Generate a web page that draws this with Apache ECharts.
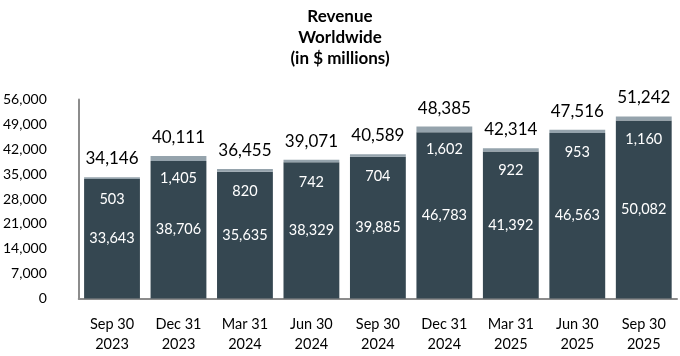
<!DOCTYPE html>
<html><head><meta charset="utf-8">
<script src="https://cdn.jsdelivr.net/npm/echarts@6/dist/echarts.min.js"></script>
<style>html,body{margin:0;padding:0;background:#fff}#c{width:680px;height:356px}</style>
</head><body><div id="c"></div>
<script>
const categories = ["Sep 30\n2023","Dec 31\n2023","Mar 31\n2024","Jun 30\n2024","Sep 30\n2024","Dec 31\n2024","Mar 31\n2025","Jun 30\n2025","Sep 30\n2025"];
const baseValues = [33643,38706,35635,38329,39885,46783,41392,46563,50082];
const topValues = [503,1405,820,742,704,1602,922,953,1160];
const totals = [34146,40111,36455,39071,40589,48385,42314,47516,51242];
const yTicks = [0,7000,14000,21000,28000,35000,42000,49000,56000];

const FONT = 'Lato';
const fmt = v => Number(v).toLocaleString('en-US');
const chart = echarts.init(document.getElementById('c'));
chart.setOption({
  animation: false,
  title: {
    text: 'Revenue\nWorldwide\n(in $ millions)',
    left: 'center', top: 1,
    textStyle: {fontFamily: FONT, fontSize: 17, fontWeight: 'bold', color: '#000', lineHeight: 21}
  },
  grid: {left: 78, right: 3, top: 99.5, bottom: 57.5, containLabel: false},
  xAxis: {
    type: 'category', data: categories,
    axisLine: {lineStyle: {color: '#8c8c8c', width: 2}},
    axisTick: {show: false},
    axisLabel: {fontFamily: FONT, fontSize: 14.5, color: '#000', lineHeight: 20, margin: 16}
  },
  yAxis: {
    type: 'value', min: yTicks[0], max: yTicks[yTicks.length-1], interval: 7000,
    axisLine: {show: true, lineStyle: {color: '#8c8c8c', width: 2}},
    axisTick: {show: false},
    splitLine: {show: false},
    axisLabel: {fontFamily: FONT, fontSize: 14, color: '#000', margin: 32, formatter: v => fmt(v)}
  },
  series: [
    {
      type: 'bar', stack: 'rev', data: baseValues, barCategoryGap: '16%',
      itemStyle: {color: '#354751'},
      label: {show: true, position: 'inside', fontFamily: FONT, fontSize: 14.5, color: '#fff', formatter: p => fmt(p.value)}
    },
    {
      type: 'bar', stack: 'rev', data: topValues,
      itemStyle: {color: '#95a3ac'},
      label: {show: true, position: 'insideTop', distance: 5, offset: [0, 10], fontFamily: FONT, fontSize: 14.5, color: '#fff', formatter: p => fmt(p.value)}
    },
    {
      type: 'line', data: totals, symbol: 'circle', symbolSize: 2, showSymbol: true,
      itemStyle: {color: 'rgba(0,0,0,0)', borderWidth: 0}, lineStyle: {width: 0, color: 'rgba(0,0,0,0)'}, z: 5,
      label: {show: true, position: 'top', distance: 9, fontFamily: FONT, fontSize: 17, color: '#000', formatter: p => fmt(p.value)}
    }
  ]
});
</script></body></html>
